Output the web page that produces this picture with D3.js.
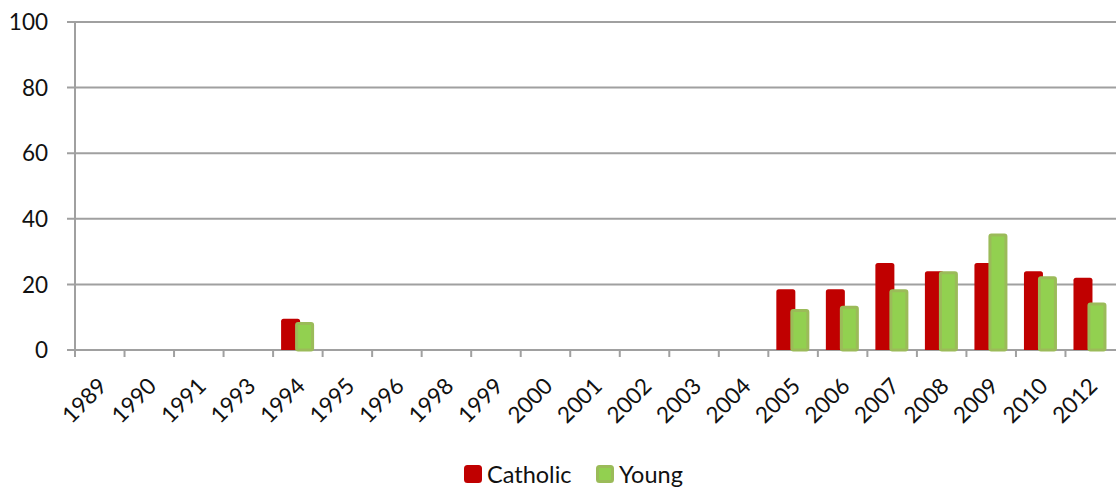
<!DOCTYPE html>
<html>
<head>
<meta charset="utf-8">
<script src="https://cdn.jsdelivr.net/npm/d3@7"></script>
<style>
  html, body { margin: 0; padding: 0; background: #fff; }
  svg { display: block; font-family: Lato, "Open Sans", sans-serif; }
</style>
</head>
<body>
<svg id="chart" width="1116" height="489"></svg>
<script>
// Survey years (category axis) and the two series, in percent
const years = ["1989","1990","1991","1993","1994","1995","1996","1998","1999","2000","2001","2002","2003","2004","2005","2006","2007","2008","2009","2010","2012"];
const catholic = [null,null,null,null,9.5,null,null,null,null,null,null,null,null,null,18.5,18.5,26.5,24,26.5,24,22];
const young    = [null,null,null,null,8.5,null,null,null,null,null,null,null,null,null,12.5,13.5,18.5,24,35.5,22.5,14.5];
const yTicks = [0, 20, 40, 60, 80, 100];
const seriesNames = ["Catholic", "Young"];

(function () {
const svg = d3.select("#chart");
const plotLeft = 75, plotRight = 1115, plotTop = 22, plotBottom = 350;

const x = d3.scaleBand().domain(years).range([plotLeft, plotRight]).paddingInner(0).paddingOuter(0);
const y = d3.scaleLinear().domain([0, 100]).range([plotBottom, plotTop]);

const grey = "#a0a0a0";

// horizontal gridlines with small outward ticks
svg.append("g").selectAll("line").data(yTicks).join("line")
  .attr("x1", plotLeft - 8).attr("x2", 1116)
  .attr("y1", d => y(d)).attr("y2", d => y(d))
  .attr("stroke", grey).attr("stroke-width", 2);

// y tick labels
svg.append("g").selectAll("text").data(yTicks).join("text")
  .attr("x", 48).attr("y", d => y(d))
  .attr("text-anchor", "end").attr("dy", "0.36em")
  .attr("font-size", 22.5).attr("fill", "#111")
  .text(d => d);

// vertical axis line
svg.append("line")
  .attr("x1", plotLeft).attr("x2", plotLeft).attr("y1", plotTop).attr("y2", plotBottom + 7)
  .attr("stroke", grey).attr("stroke-width", 2);

// category tick marks at band boundaries
svg.append("g").selectAll("line").data(years).join("line")
  .attr("x1", d => x(d)).attr("x2", d => x(d))
  .attr("y1", plotBottom).attr("y2", plotBottom + 7)
  .attr("stroke", grey).attr("stroke-width", 2);

// bars: Catholic first, Young drawn on top with a slight overlap
const barW = 19, overlapShift = 14;
const padL = 8;

const redBars = years.map((yr, i) => ({ yr, v: catholic[i] })).filter(d => d.v != null);
const greenBars = years.map((yr, i) => ({ yr, v: young[i] })).filter(d => d.v != null);

svg.append("g").selectAll("path").data(redBars).join("path")
  .attr("d", d => {
    const x0 = x(d.yr) + padL, w = barW, y0 = y(d.v), r = 2.5;
    return `M${x0},${plotBottom}V${y0 + r}Q${x0},${y0} ${x0 + r},${y0}H${x0 + w - r}Q${x0 + w},${y0} ${x0 + w},${y0 + r}V${plotBottom}Z`;
  })
  .attr("fill", "#c00000");

svg.append("g").selectAll("rect").data(greenBars).join("rect")
  .attr("x", d => x(d.yr) + padL + overlapShift + 1.5)
  .attr("y", d => y(d.v) + 1.5)
  .attr("width", barW - 3)
  .attr("height", d => plotBottom - y(d.v) - 1.5)
  .attr("rx", 1.5)
  .attr("fill", "#92d050")
  .attr("stroke", "#9bbb59").attr("stroke-width", 3);

// rotated year labels
svg.append("g").selectAll("text").data(years).join("text")
  .attr("transform", d => `translate(${x(d) + x.bandwidth() / 2 + 3},${plotBottom + 32}) rotate(-45)`)
  .attr("text-anchor", "end").attr("dy", "0.35em")
  .attr("font-size", 22.5).attr("fill", "#111")
  .text(d => d);

// legend
const legend = svg.append("g");
const legendX = [464, 596];
const legendColors = [["#c00000", "#c00000"], ["#92d050", "#9bbb59"]];
seriesNames.forEach((name, i) => {
  legend.append("rect")
    .attr("x", legendX[i] + 1.5).attr("y", 466.5)
    .attr("width", 15).attr("height", 15).attr("rx", 2)
    .attr("fill", legendColors[i][0]).attr("stroke", legendColors[i][1]).attr("stroke-width", 3);
  legend.append("text")
    .attr("x", legendX[i] + 23).attr("y", 483)
    .attr("font-size", 23.5).attr("fill", "#111")
    .text(name);
});
})();
</script>
</body>
</html>
